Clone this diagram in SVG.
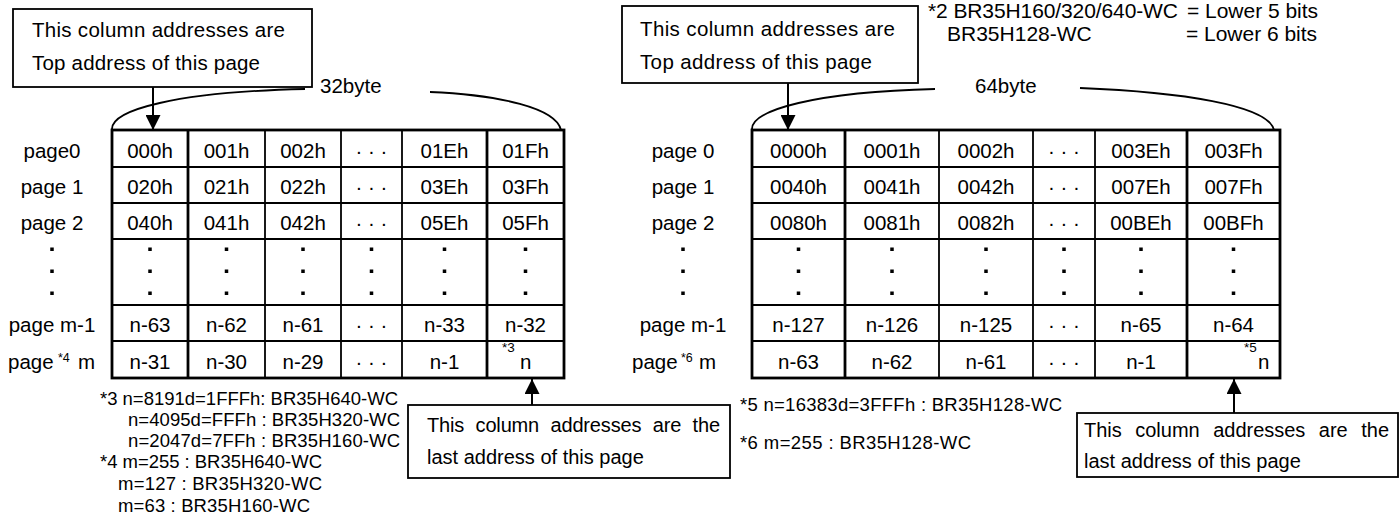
<svg xmlns="http://www.w3.org/2000/svg" width="1400" height="518" viewBox="0 0 1400 518">
<style>
.t{font-family:"Liberation Sans",Arial,sans-serif;font-size:20.5px;fill:#000}
.c{text-anchor:middle}
.n{font-size:21px}
.b{font-size:20px}
.f{font-size:18.5px}
.s{font-size:12.5px}
.ss{font-size:13.5px}
.box{fill:#fff;stroke:#000;stroke-width:1.8}
.outer{fill:none;stroke:#000;stroke-width:2.8}
.thin{stroke:#000;stroke-width:1.8;fill:none}
.thick{stroke:#000;stroke-width:2.8;fill:none}
.arr{stroke:#000;stroke-width:2;fill:none;marker-end:url(#ah)}
.brace{stroke:#000;stroke-width:1.8;fill:none}
</style>
<defs>
<marker id="ah" viewBox="0 0 10 10" refX="10" refY="5" markerWidth="15" markerHeight="15" markerUnits="userSpaceOnUse" orient="auto"><path d="M0,0 L10,5 L0,10 z" fill="#000"/></marker>
<g id="vdots"><rect x="-1.75" y="247.5" width="3.5" height="3.5"/><rect x="-1.75" y="269.5" width="3.5" height="3.5"/><rect x="-1.75" y="291.5" width="3.5" height="3.5"/></g>
</defs>
<rect width="1400" height="518" fill="#fff"/>

<!-- top-right note -->
<g id="note2" class="t n">
<text><tspan x="928" y="18" textLength="250">*2 BR35H160/320/640-WC</tspan><tspan x="1187" y="18" textLength="131">= Lower 5 bits</tspan></text>
<text><tspan x="947" y="41">BR35H128-WC</tspan><tspan x="1186" y="41" textLength="131">= Lower 6 bits</tspan></text>
</g>

<!-- callouts -->
<g id="callout-top-left">
<rect class="box" x="13" y="9" width="299" height="78"/>
<text class="t" x="32" y="37" textLength="253">This column addresses are</text>
<text class="t" x="32" y="70" textLength="228">Top address of this page</text>
</g>
<g id="callout-top-right">
<rect class="box" x="622" y="6" width="296" height="77"/>
<text class="t" x="640" y="36" textLength="255">This column addresses are</text>
<text class="t" x="640" y="69" textLength="232">Top address of this page</text>
</g>
<g id="callout-bottom-left">
<rect class="box" x="408" y="405" width="322" height="73"/>
<text class="t b" x="427" y="432" word-spacing="6" textLength="293">This column addresses are the</text>
<text class="t b" x="427" y="464">last address of this page</text>
</g>
<g id="callout-bottom-right">
<rect class="box" x="1077" y="413" width="321" height="64"/>
<text class="t b" x="1084" y="437" word-spacing="8" textLength="305">This column addresses are the</text>
<text class="t b" x="1084" y="468">last address of this page</text>
</g>

<!-- width brackets -->
<g id="brackets">
<path class="brace" d="M112,129 C112,110 175,92 305,89"/>
<path class="brace" d="M430,92 C500,95 556,108 561,130"/>
<path class="brace" d="M752,129 C752,110 815,92 935,89"/>
<path class="brace" d="M1080,88 C1180,92 1268,105 1274,130"/>
<text class="t" x="320" y="93">32byte</text>
<text class="t" x="975" y="93">64byte</text>
</g>

<!-- left table -->
<g id="table-32byte">
<g>
<line class="thin" x1="112" y1="167" x2="564" y2="167"/>
<line class="thin" x1="112" y1="203" x2="564" y2="203"/>
<line class="thin" x1="112" y1="239" x2="564" y2="239"/>
<line class="thin" x1="112" y1="305" x2="564" y2="305"/>
<line class="thin" x1="112" y1="341" x2="564" y2="341"/>
<line class="thin" x1="265" y1="130" x2="265" y2="378"/>
<line class="thin" x1="341" y1="130" x2="341" y2="378"/>
<line class="thin" x1="402" y1="130" x2="402" y2="378"/>
<line class="thick" x1="188" y1="130" x2="188" y2="378"/>
<line class="thick" x1="487" y1="130" x2="487" y2="378"/>
<rect class="outer" x="112" y="130" width="452" height="248"/>
</g>
<g class="t c">
<text x="52" y="157.5">page0</text>
<text x="52" y="194">page 1</text>
<text x="52" y="230">page 2</text>
<text x="52" y="332">page m-1</text>
</g>
<text class="t"><tspan x="8" y="368.5">page</tspan><tspan class="s" x="58" y="362">*4</tspan><tspan x="78" y="368.5">m</tspan></text>
<g class="t c">
<text x="150" y="157.5">000h</text><text x="226.5" y="157.5">001h</text><text x="303" y="157.5">002h</text><text x="371.5" y="157.5">· · ·</text><text x="444.5" y="157.5">01Eh</text><text x="525.5" y="157.5">01Fh</text>
<text x="150" y="194">020h</text><text x="226.5" y="194">021h</text><text x="303" y="194">022h</text><text x="371.5" y="194">· · ·</text><text x="444.5" y="194">03Eh</text><text x="525.5" y="194">03Fh</text>
<text x="150" y="230">040h</text><text x="226.5" y="230">041h</text><text x="303" y="230">042h</text><text x="371.5" y="230">· · ·</text><text x="444.5" y="230">05Eh</text><text x="525.5" y="230">05Fh</text>
<text x="150" y="332">n-63</text><text x="226.5" y="332">n-62</text><text x="303" y="332">n-61</text><text x="371.5" y="332">· · ·</text><text x="444.5" y="332">n-33</text><text x="525.5" y="332">n-32</text>
<text x="150" y="368.5">n-31</text><text x="226.5" y="368.5">n-30</text><text x="303" y="368.5">n-29</text><text x="371.5" y="368.5">· · ·</text><text x="444.5" y="368.5">n-1</text>
</g>
<text class="t"><tspan class="ss" x="502" y="352">*3</tspan><tspan x="520" y="368.5">n</tspan></text>
<use href="#vdots" x="52"/><use href="#vdots" x="150"/><use href="#vdots" x="226.5"/><use href="#vdots" x="303"/><use href="#vdots" x="371.5"/><use href="#vdots" x="444.5"/><use href="#vdots" x="525.5"/>
</g>

<!-- right table -->
<g id="table-64byte">
<g>
<line class="thin" x1="752" y1="167" x2="1280" y2="167"/>
<line class="thin" x1="752" y1="203" x2="1280" y2="203"/>
<line class="thin" x1="752" y1="239" x2="1280" y2="239"/>
<line class="thin" x1="752" y1="305" x2="1280" y2="305"/>
<line class="thin" x1="752" y1="341" x2="1280" y2="341"/>
<line class="thin" x1="939" y1="130" x2="939" y2="378"/>
<line class="thin" x1="1033" y1="130" x2="1033" y2="378"/>
<line class="thin" x1="1095" y1="130" x2="1095" y2="378"/>
<line class="thick" x1="845" y1="130" x2="845" y2="378"/>
<line class="thick" x1="1187" y1="130" x2="1187" y2="378"/>
<rect class="outer" x="752" y="130" width="528" height="248"/>
</g>
<g class="t c">
<text x="683" y="157.5">page 0</text>
<text x="683" y="194">page 1</text>
<text x="683" y="230">page 2</text>
<text x="683" y="332">page m-1</text>
</g>
<text class="t"><tspan x="632" y="368.5">page</tspan><tspan class="s" x="681" y="362">*6</tspan><tspan x="699" y="368.5">m</tspan></text>
<g class="t c">
<text x="798.5" y="157.5">0000h</text><text x="892" y="157.5">0001h</text><text x="986" y="157.5">0002h</text><text x="1064" y="157.5">· · ·</text><text x="1141" y="157.5">003Eh</text><text x="1233.5" y="157.5">003Fh</text>
<text x="798.5" y="194">0040h</text><text x="892" y="194">0041h</text><text x="986" y="194">0042h</text><text x="1064" y="194">· · ·</text><text x="1141" y="194">007Eh</text><text x="1233.5" y="194">007Fh</text>
<text x="798.5" y="230">0080h</text><text x="892" y="230">0081h</text><text x="986" y="230">0082h</text><text x="1064" y="230">· · ·</text><text x="1141" y="230">00BEh</text><text x="1233.5" y="230">00BFh</text>
<text x="798.5" y="332">n-127</text><text x="892" y="332">n-126</text><text x="986" y="332">n-125</text><text x="1064" y="332">· · ·</text><text x="1141" y="332">n-65</text><text x="1233.5" y="332">n-64</text>
<text x="798.5" y="368.5">n-63</text><text x="892" y="368.5">n-62</text><text x="986" y="368.5">n-61</text><text x="1064" y="368.5">· · ·</text><text x="1141" y="368.5">n-1</text>
</g>
<text class="t"><tspan class="ss" x="1244" y="352">*5</tspan><tspan x="1258" y="368.5">n</tspan></text>
<use href="#vdots" x="683"/><use href="#vdots" x="798.5"/><use href="#vdots" x="892"/><use href="#vdots" x="986"/><use href="#vdots" x="1064"/><use href="#vdots" x="1141"/><use href="#vdots" x="1233.5"/>
</g>

<!-- footnotes -->
<g id="notes-left" class="t f">
<text x="100" y="405" textLength="298">*3 n=8191d=1FFFh: BR35H640-WC</text>
<text x="128" y="426" textLength="272">n=4095d=FFFh : BR35H320-WC</text>
<text x="128" y="447" textLength="272">n=2047d=7FFh : BR35H160-WC</text>
<text x="100" y="468" textLength="222">*4 m=255 : BR35H640-WC</text>
<text x="118" y="490" textLength="204">m=127 : BR35H320-WC</text>
<text x="118" y="512" textLength="192">m=63 : BR35H160-WC</text>
</g>
<g id="notes-right" class="t f">
<text x="740" y="411" textLength="322">*5 n=16383d=3FFFh : BR35H128-WC</text>
<text x="740" y="449" textLength="231">*6 m=255 : BR35H128-WC</text>
</g>

<!-- connectors -->
<g id="connectors">
<line class="arr" x1="153" y1="87" x2="153" y2="130"/>
<line class="arr" x1="788" y1="83" x2="788" y2="130"/>
<line class="arr" x1="532" y1="405" x2="532" y2="379"/>
<line class="arr" x1="1234" y1="413" x2="1234" y2="379"/>
</g>
</svg>
